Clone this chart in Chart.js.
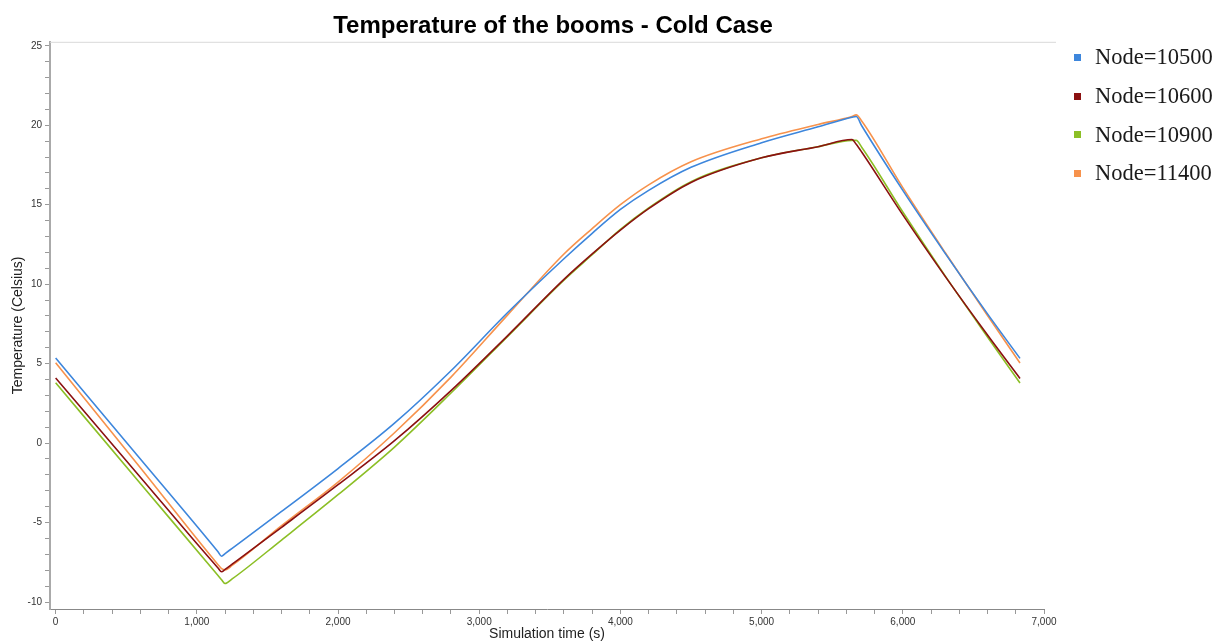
<!DOCTYPE html>
<html>
<head>
<meta charset="utf-8">
<script src="https://cdn.jsdelivr.net/npm/chart.js@4.4.1/dist/chart.umd.min.js"></script>
<style>
  body { margin: 0; background: #fff; }
  #wrap { position: relative; width: 1215px; height: 644px; }
  #legend { position: absolute; left: 1074px; top: 38px; font-family: "Liberation Serif", serif; font-size: 22.5px; color: #1a1a1a; }
  #legend div { height: 38.7px; display: flex; align-items: center; }
  #legend span.box { display: inline-block; width: 7px; height: 7px; margin-right: 14px; }
</style>
</head>
<body>
<div id="wrap">
  <canvas id="chart"></canvas>
  <div id="legend"></div>
</div>
<script>
// time axis (s) shared by all nodes
const timeSeconds = [0, 600, 1150, 1175, 1200, 1250, 1600, 2000, 2400, 2800, 3200, 3600, 3800, 4000, 4200, 4500, 5000, 5400, 5640, 5670, 5710, 6000, 6300, 6600, 6830];

// temperatures (Celsius)
const node10500 = [5.35, -1.0, -6.84, -7.12, -6.95, -6.62, -4.3, -1.6, 1.25, 4.55, 8.2, 11.6, 13.2, 14.7, 15.9, 17.35, 18.9, 19.9, 20.5, 20.55, 19.95, 15.9, 11.94, 8.13, 5.33];
const node10600 = [4.1, -2.15, -7.86, -8.1, -7.95, -7.62, -5.3, -2.62, 0.15, 3.3, 6.75, 10.3, 11.9, 13.4, 14.75, 16.4, 17.95, 18.65, 19.1, 18.8, 18.3, 14.36, 10.49, 6.8, 4.07];
const node10900 = [3.8, -2.55, -8.33, -8.6, -8.84, -8.55, -6.1, -3.25, -0.25, 3.15, 6.7, 10.25, 11.85, 13.45, 14.8, 16.45, 17.95, 18.65, 19.05, 19.05, 18.6, 14.54, 10.52, 6.68, 3.78];
const node11400 = [5.05, -1.55, -7.65, -7.9, -7.98, -7.7, -5.2, -2.45, 0.65, 4.15, 8.05, 11.9, 13.5, 15.0, 16.25, 17.7, 19.15, 20.05, 20.55, 20.65, 20.25, 16.07, 11.99, 8.03, 5.04];

const seriesNames = ["Node=10500", "Node=10600", "Node=10900", "Node=11400"];
const seriesColors = ["#3d86dc", "#8b1111", "#8cbf26", "#f7924c"];

// tick values
const xTicks = [];
for (let t = 0; t <= 7000; t += 200) xTicks.push(t);
const yTicks = [];
for (let v = -10; v <= 25; v += 1) yTicks.push(v);

const allSeries = [node10500, node10600, node10900, node11400];

const datasets = allSeries.map((vals, i) => ({
    label: seriesNames[i],
    data: vals.map((v, k) => ({ x: timeSeconds[k], y: v })),
    borderColor: seriesColors[i],
    backgroundColor: seriesColors[i],
    borderWidth: 1.6,
    pointRadius: 0,
    fill: false,
    cubicInterpolationMode: 'monotone'
}));

// light frame line on top of the plot
const topLine = {
    id: 'topLine',
    afterDraw(chart) {
        const { ctx, chartArea } = chart;
        ctx.save();
        ctx.strokeStyle = '#d9d9d9';
        ctx.lineWidth = 1;
        ctx.beginPath();
        ctx.moveTo(chartArea.left, chartArea.top + 0.5);
        ctx.lineTo(chartArea.right + 12, chartArea.top + 0.5);
        ctx.stroke();
        ctx.restore();
    }
};

const fontSans = "'Liberation Sans', Arial, sans-serif";

new Chart(document.getElementById('chart'), {
    type: 'line',
    data: { datasets },
    options: {
        responsive: true,
        maintainAspectRatio: false,
        animation: false,
        layout: { padding: { left: 0, right: 109, top: 0, bottom: 0 } },
        plugins: {
            legend: { display: false },
            tooltip: { enabled: false },
            title: {
                display: true,
                text: 'Temperature of the booms - Cold Case',
                color: '#000',
                font: { family: fontSans, size: 24, weight: 'bold' },
                padding: { top: 12, bottom: 1 }
            }
        },
        scales: {
            x: {
                type: 'linear',
                min: -40,
                max: 7000,
                afterBuildTicks: s => { s.ticks = xTicks.map(v => ({ value: v })); },
                afterFit: s => { s.height = 35; },
                ticks: {
                    autoSkip: false,
                    maxRotation: 0,
                    padding: 2,
                    color: '#333',
                    font: { family: fontSans, size: 10 },
                    callback: v => (v % 1000 === 0 ? v.toLocaleString('en-US') : '')
                },
                grid: { drawOnChartArea: false, drawTicks: true, tickLength: 5, color: '#999' },
                border: { display: true, color: '#888', width: 1 },
                title: {
                    display: true,
                    text: 'Simulation time (s)',
                    color: '#222',
                    font: { family: fontSans, size: 14 },
                    padding: { top: 0, bottom: 1 }
                }
            },
            y: {
                min: -10.44,
                max: 25.25,
                afterBuildTicks: s => { s.ticks = yTicks.map(v => ({ value: v })); },
                afterFit: s => { s.width = 50; },
                ticks: {
                    autoSkip: false,
                    padding: 3,
                    color: '#333',
                    font: { family: fontSans, size: 10 },
                    callback: v => (v % 5 === 0 ? String(v) : '')
                },
                grid: { drawOnChartArea: false, drawTicks: true, tickLength: 5, color: '#999' },
                border: { display: true, color: '#aaa', width: 2 },
                title: {
                    display: true,
                    text: 'Temperature (Celsius)',
                    color: '#222',
                    font: { family: fontSans, size: 14 },
                    padding: { top: 10, bottom: 0 }
                }
            },
            // empty spacer on the right so the plot ends at 7,000 under a centred title
            spacer: {
                type: 'linear',
                position: 'right',
                display: true,
                ticks: { display: false },
                grid: { display: false },
                border: { display: false },
                afterFit: s => { s.width = 62; }
            }
        }
    },
    plugins: [topLine]
});

// legend as plain html next to the plot
const legendBox = document.getElementById('legend');
seriesNames.forEach((name, i) => {
    legendBox.innerHTML += `<div><span class="box" style="background:${seriesColors[i]}"></span>${name}</div>`;
});
</script>
</body>
</html>
